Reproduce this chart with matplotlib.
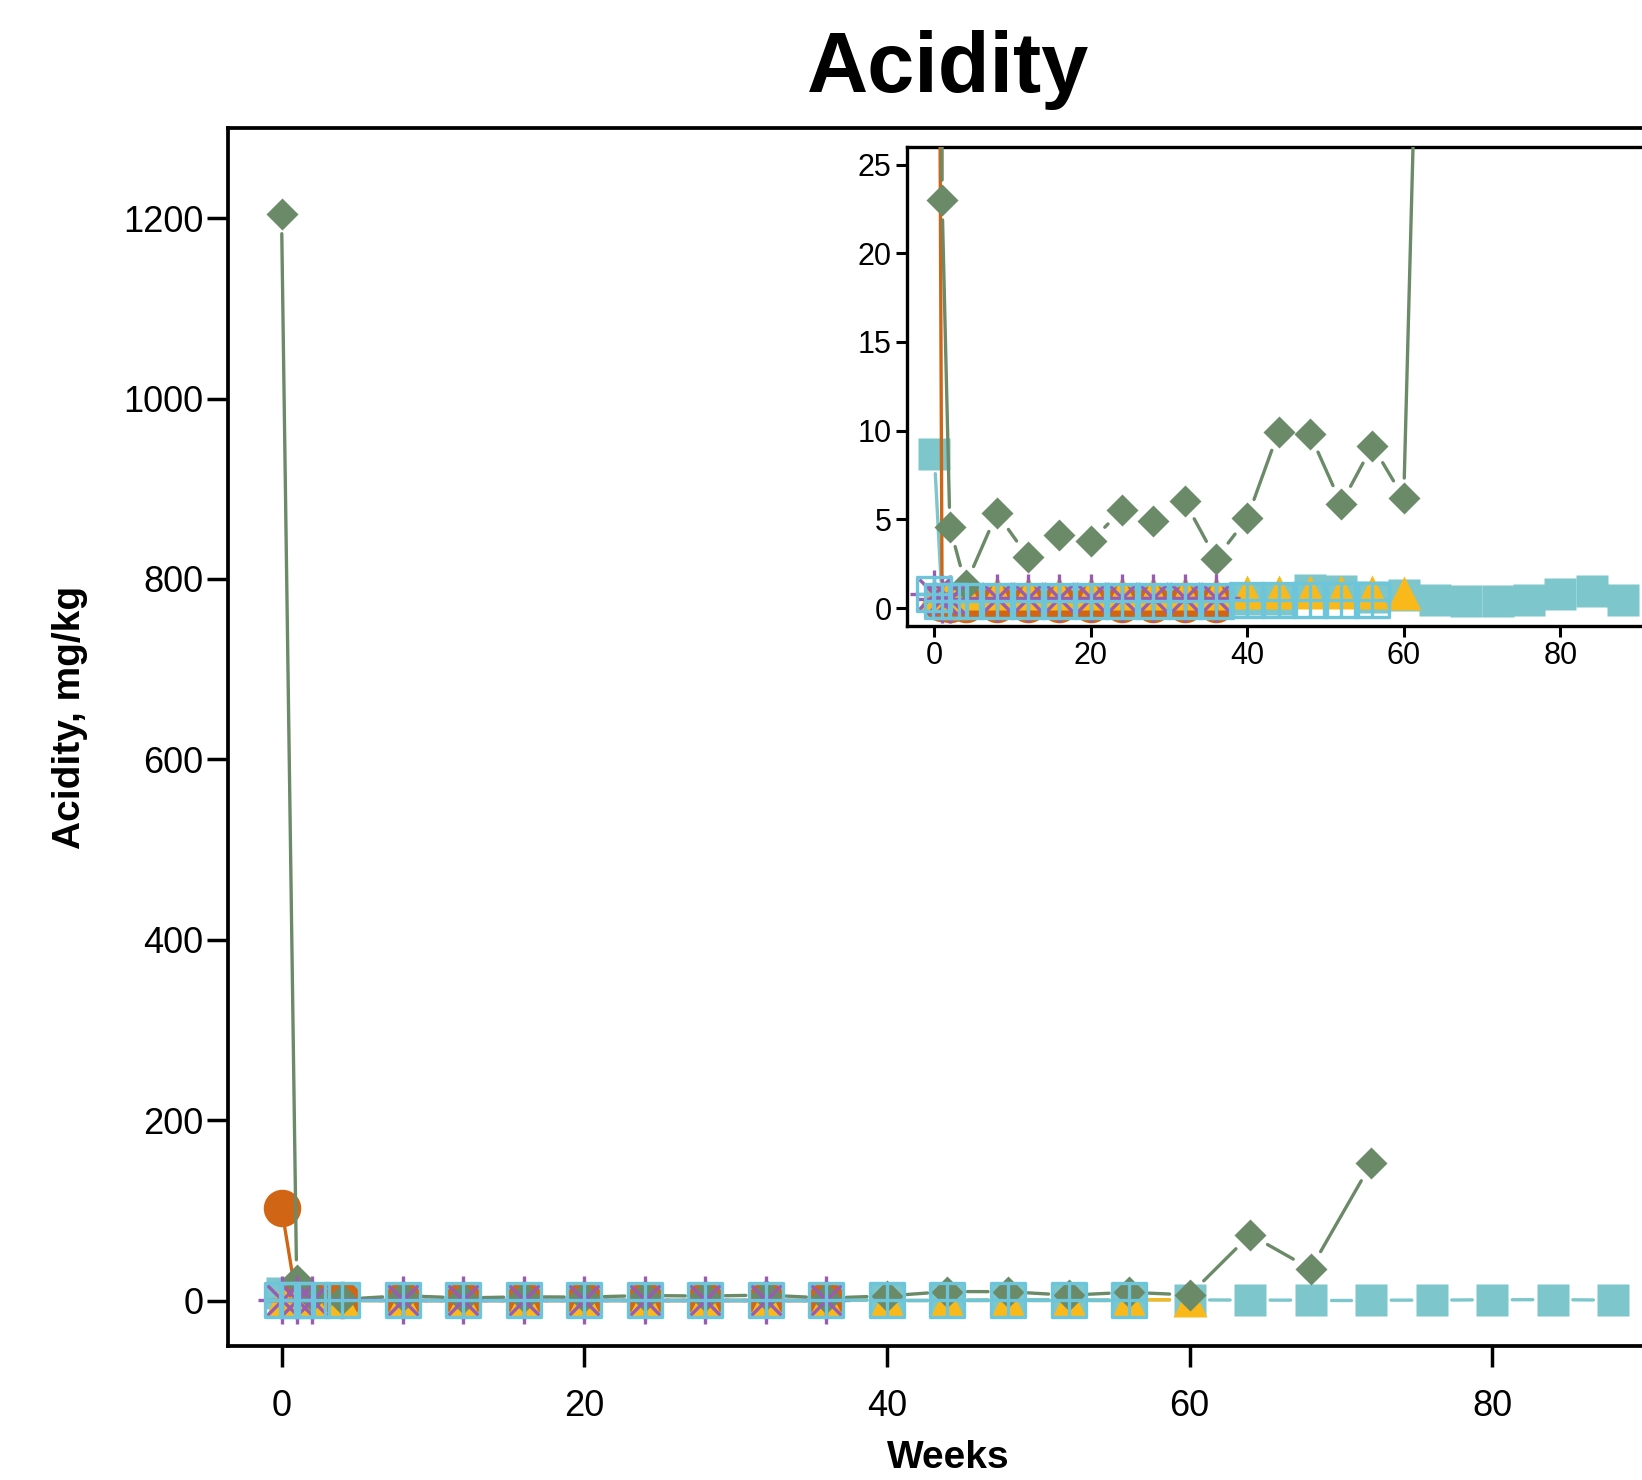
import numpy as np
import matplotlib
matplotlib.use("Agg")
import matplotlib.pyplot as plt
from matplotlib.path import Path

plt.rcParams['font.family'] = ['Liberation Sans', 'DejaVu Sans']

# ---- data (acidity, mg/kg) ----
weeks_orange = [0, 1, 2, 4, 8, 12, 16, 20, 24, 28, 32, 36]
acid_orange = [103, 0.3, 0.2, 0.2, 0.2, 0.2, 0.2, 0.2, 0.2, 0.2, 0.2, 0.2]

weeks_green = [0, 1, 2, 4, 8, 12, 16, 20, 24, 28, 32, 36, 40, 44, 48, 52,
               56, 60, 64, 68, 72]
acid_green = [1205, 23.0, 4.55, 1.3, 5.35, 2.86, 4.12, 3.75, 5.54, 4.93,
              6.02, 2.77, 5.06, 9.95, 9.82, 5.87, 9.16, 6.2, 73, 35, 152]

weeks_yellow = [0, 1, 2, 4, 8, 12, 16, 20, 24, 28, 32, 36, 40, 44, 48, 52,
                56, 60]
acid_yellow = [0.75, 0.8, 0.8, 0.85, 0.85, 0.85, 0.85, 0.85, 0.85, 0.85,
               0.85, 0.85, 0.9, 0.9, 0.9, 0.9, 0.9, 0.85]

weeks_purple = [0, 1, 2, 8, 12, 16, 20, 24, 28, 32, 36]
acid_purple = [0.8, 0.5, 0.5, 0.55, 0.55, 0.55, 0.55, 0.55, 0.55, 0.55,
               0.55]

weeks_cyan = [0, 1, 2, 4, 8, 12, 16, 20, 24, 28, 32, 36, 40, 44, 48, 52,
              56, 60, 64, 68, 72, 76, 80, 84, 88]
acid_cyan = [8.7, 0.4, 0.4, 0.4, 0.4, 0.4, 0.4, 0.4, 0.45, 0.45, 0.45, 0.45,
             0.5, 0.5, 1.0, 0.95, 0.6, 0.72, 0.44, 0.4, 0.4, 0.44, 0.81,
             0.97, 0.44]

weeks_sqplus = [0, 1, 2, 4, 8, 12, 16, 20, 24, 28, 32, 36, 40, 44, 48, 52,
                56]
acid_sqplus = [0.8, 0.4, 0.4, 0.4, 0.4, 0.4, 0.4, 0.4, 0.4, 0.4, 0.4, 0.4,
               0.45, 0.45, 0.45, 0.45, 0.45]

# colours
c_orange = '#D06515'
c_green = '#6A8A68'
c_yellow = '#FAB91A'
c_purple = '#9A5CB0'
c_cyan = '#7CC6CC'
c_sqplus = '#6CC5DA'

# square with a plus inside (outline marker)
sqplus = Path([(-1, -1), (1, -1), (1, 1), (-1, 1), (-1, -1),
               (0, -1), (0, 1), (-1, 0), (1, 0)],
              [Path.MOVETO, Path.LINETO, Path.LINETO, Path.LINETO,
               Path.CLOSEPOLY, Path.MOVETO, Path.LINETO, Path.MOVETO,
               Path.LINETO])

LW = 2.4
GAP = 20  # px left free around each point (type="b" look)


def draw_b(ax, x, y, color, z):
    # segments between points, cut back near the markers
    pts = ax.transData.transform(np.column_stack([x, y]))
    inv = ax.transData.inverted()
    for p0, p1 in zip(pts[:-1], pts[1:]):
        d = p1 - p0
        dist = np.hypot(d[0], d[1])
        if dist <= 2 * GAP:
            continue
        u = d / dist
        a = inv.transform(p0 + u * GAP)
        b = inv.transform(p1 - u * GAP)
        ax.plot([a[0], b[0]], [a[1], b[1]], color=color, lw=LW,
                zorder=z, solid_capstyle='round')


def draw_series(ax):
    # filled cyan squares
    draw_b(ax, weeks_cyan, acid_cyan, c_cyan, 2)
    ax.plot(weeks_cyan, acid_cyan, ls='none', marker='s', ms=23.5,
            mfc=c_cyan, mec='none', zorder=2)
    # orange circles
    draw_b(ax, weeks_orange, acid_orange, c_orange, 3)
    ax.plot(weeks_orange, acid_orange, ls='none', marker='o', ms=27,
            mfc=c_orange, mec='none', zorder=3)
    # yellow triangles
    draw_b(ax, weeks_yellow, acid_yellow, c_yellow, 4)
    ax.plot(weeks_yellow, acid_yellow, ls='none', marker='^', ms=24,
            mfc=c_yellow, mec='none', zorder=4)
    # green diamonds
    draw_b(ax, weeks_green, acid_green, c_green, 5)
    ax.plot(weeks_green, acid_green, ls='none', marker='D', ms=16.5,
            mfc=c_green, mec='none', zorder=5)
    # purple asterisks
    draw_b(ax, weeks_purple, acid_purple, c_purple, 6)
    ax.plot(weeks_purple, acid_purple, ls='none', marker='+', ms=34,
            mec=c_purple, mew=LW, zorder=6)
    ax.plot(weeks_purple, acid_purple, ls='none', marker='x', ms=21,
            mec=c_purple, mew=LW, zorder=6)
    # cyan squares with plus
    draw_b(ax, weeks_sqplus, acid_sqplus, c_sqplus, 7)
    ax.plot(weeks_sqplus, acid_sqplus, ls='none', marker=sqplus, ms=24,
            mfc='none', mec=c_sqplus, mew=LW, zorder=7)


fig = plt.figure(figsize=(16.42, 14.8), dpi=100)

# main panel
ax = fig.add_axes([0.1390, 0.0908, 0.8760, 0.8227])
ax.set_xlim(-3.52, 91.52)
ax.set_ylim(-50, 1300)
ax.set_xticks([0, 20, 40, 60, 80])
ax.set_yticks([0, 200, 400, 600, 800, 1000, 1200])
for s in ax.spines.values():
    s.set_linewidth(2.7)
ax.tick_params(axis='both', direction='out', length=15, width=2.5,
               labelsize=26)
ax.tick_params(axis='x', pad=16)
ax.tick_params(axis='y', pad=3)
draw_series(ax)

# inset (zoom on low values)
axi = fig.add_axes([0.5522, 0.5772, 0.4529, 0.3236])
axi.set_xlim(-3.52, 91.52)
axi.set_ylim(-1, 26)
axi.set_xticks([0, 20, 40, 60, 80])
axi.set_yticks([0, 5, 10, 15, 20, 25])
for s in axi.spines.values():
    s.set_linewidth(2.4)
axi.tick_params(axis='both', direction='out', length=8, width=2.2,
                labelsize=22, pad=3)
draw_series(axi)

fig.text(948 / 1642, 1 - 92 / 1480, 'Acidity', ha='center', va='baseline',
         fontsize=61, fontweight='bold')
fig.text(948 / 1642, 1 - 1468 / 1480, 'Weeks', ha='center', va='baseline',
         fontsize=28, fontweight='bold')
fig.text(70 / 1642, 1 - 717 / 1480, 'Acidity, mg/kg', ha='center',
         va='center', rotation=90, fontsize=28, fontweight='bold')

fig.savefig('out.png', dpi=100)
